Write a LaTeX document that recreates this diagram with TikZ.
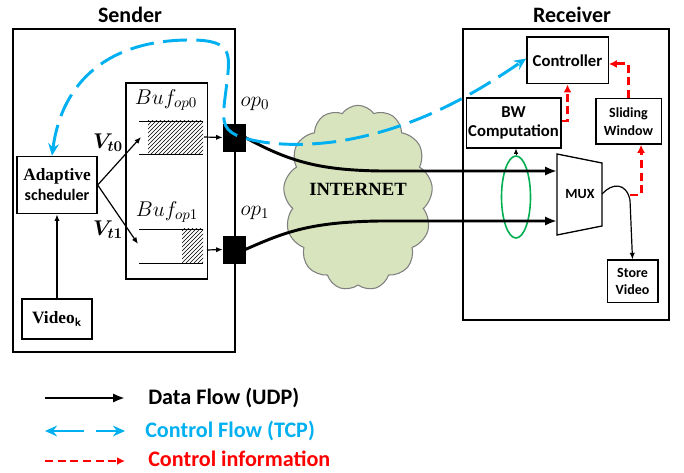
\RequirePackage{fix-cm}
\documentclass[tikz,border=0pt]{standalone}
\usepackage{amsmath}
\usepackage{bm}
\usepackage{fontspec}
\setmainfont{Carlito}
\newfontfamily\serifbf{Liberation Serif}
\usepackage{xcolor}
\usepackage{tikz}
\usetikzlibrary{arrows.meta,shapes.geometric,shapes.symbols,patterns}

\definecolor{tcpblue}{HTML}{00B0F0}
\definecolor{cloudgreen}{HTML}{D7E4BD}
\definecolor{ringgreen}{HTML}{00B050}

\begin{document}
\begin{tikzpicture}[x=0.75pt,y=-0.75pt,
	box/.style={draw,line width=1pt,fill=white,align=center,inner sep=1pt},
	frame/.style={draw,line width=1pt,inner sep=0pt},
	port/.style={draw,fill=black,minimum width=16.5pt,minimum height=20pt,inner sep=0pt},
	udp/.style={line width=2.2pt,-{Latex[length=9pt,width=7pt]}},
	thin arrow/.style={line width=0.9pt,-{Latex[length=5pt,width=4pt]}},
	tcp/.style={tcpblue,line width=2.2pt,dash pattern=on 18pt off 7pt,{Stealth[length=9pt,width=8pt]}-{Stealth[length=9pt,width=8pt]}},
	ctlinfo/.style={red,line width=2.2pt,dash pattern=on 6pt off 3.5pt,-{Latex[length=6pt,width=6pt]}},
	mathlbl/.style={inner sep=0pt,font=\fontsize{16}{18}\selectfont}]
	\useasboundingbox (0,0) rectangle (684,473);
	
	% sender side
	\node[font=\bfseries\fontsize{16.5}{18}\selectfont] (sendtitle) at (130,15) {Sender};
	\node[frame,minimum width=166.5pt,minimum height=242.25pt] (sender) at (124,190.5) {};
	\node[frame,minimum width=61pt,minimum height=147pt] (bufbox) at (166.5,181) {};
	\node[box,minimum width=60pt,minimum height=43pt,font=\bfseries\fontsize{12}{15}\selectfont] (sched) at (57,185)
		{{\serifbf\fontsize{13}{15}\selectfont Adaptive}\\scheduler};
	\node[box,minimum width=52.5pt,minimum height=30pt] (vid) at (57,319)
		{\serifbf\bfseries\fontsize{13}{15}\selectfont Video\textsubscript{\sffamily k}};
	\node[mathlbl] (bufzlbl) at (166,100) {$Buf_{op0}$};
	\node[mathlbl] (bufolbl) at (167,212) {$Buf_{op1}$};
	\node[mathlbl] (vzlbl) at (108,143) {$\bm{V_{t0}}$};
	\node[mathlbl] (volbl) at (108,230) {$\bm{V_{t1}}$};
	
	% the two buffers
	\fill[pattern=north east lines] (148,121) rectangle (203,154);
	\draw[line width=0.7pt] (139,121) -- (203,121) (139,154) -- (203,154);
	\fill[pattern=north east lines] (182,229) rectangle (203,263);
	\draw[line width=0.7pt] (139,229) -- (203,229) (139,263) -- (203,263);
	\coordinate (bufzin) at (141,137);
	\coordinate (bufoin) at (138,244);
	\coordinate (bufzout) at (204,137);
	\coordinate (bufoout) at (207,250);
	
	\node[port] (opzero) at (234,137.5) {};
	\node[port] (opone) at (234,249.5) {};
	\node[mathlbl] (opzlbl) at (255,104) {$op_0$};
	\node[mathlbl] (opolbl) at (255,213) {$op_1$};
	
	\draw[thin arrow] (vid) -- (sched);
	\draw[thin arrow] (sched.east) -- (bufzin);
	\draw[thin arrow] (sched.east) -- (bufoin);
	\draw[thin arrow] (bufzout) -- (opzero.west);
	\draw[thin arrow] (bufoout) -- (opone.west);
	
	% internet
	\node[cloud,cloud puffs=13,cloud puff arc=110,aspect=0.8,draw=gray,line width=0.8pt,fill=cloudgreen,
		minimum width=112pt,minimum height=139pt] (net) at (358,198) {};
	\node[font=\serifbf\bfseries\fontsize{14}{16}\selectfont] (nettext) at (358,189) {INTERNET};
	
	% receiver side
	\node[font=\bfseries\fontsize{16.5}{18}\selectfont] (rcvtitle) at (572,15) {Receiver};
	\node[frame,minimum width=154.5pt,minimum height=218.25pt] (receiver) at (566,174.5) {};
	\node[box,minimum width=61pt,minimum height=35pt,font=\bfseries\fontsize{12.5}{14}\selectfont] (ctrl) at (567.5,60.5) {Controller};
	\node[box,minimum width=71pt,minimum height=37.5pt,font=\bfseries\fontsize{12.5}{14.5}\selectfont] (bw) at (513.5,123) {BW\\Computation};
	\node[box,minimum width=49pt,minimum height=34pt,font=\bfseries\fontsize{10.5}{13}\selectfont] (slide) at (628.5,121.5) {Sliding\\Window};
	\node[box,minimum width=38pt,minimum height=32pt,font=\bfseries\fontsize{10.5}{13}\selectfont] (store) at (632.5,281.5) {Store\\Video};
	\draw[line width=1pt,fill=white] (557,154) -- (602,163) -- (602,226) -- (557,235) -- cycle;
	\node[font=\bfseries\fontsize{10.5}{12}\selectfont] (mux) at (580,194) {MUX};
	\coordinate (muxinz) at (557,171);
	\coordinate (muxino) at (557,221);
	\coordinate (muxout) at (602,194);
	\coordinate (tap) at (630,195);
	\node[ellipse,draw=ringgreen,line width=1.2pt,minimum width=21.75pt,minimum height=61.5pt,inner sep=0pt] (ring) at (516,197) {};
	\draw[line width=0.6pt,-{Latex[length=4pt,width=3.5pt]}] (ring.north) -- (ring.north |- bw.south);
	
	% data flow
	\draw[udp] (opzero.east) .. controls (290,162) and (320,170) .. (380,171) -- (muxinz);
	\draw[udp] (opone.east) .. controls (285,232) and (310,222) .. (380,221) -- (muxino);
	\draw[thin arrow] (muxout) .. controls (612,183) and (626,182) .. (630,200) -- (store.north);
	
	% control information
	\draw[ctlinfo] (tap) -| ([xshift=9.4pt]slide.south);
	\draw[ctlinfo] (slide.north) |- ([yshift=-2.6pt]ctrl.east);
	\draw[ctlinfo] ([yshift=1.5pt]bw.east) -| (ctrl.south);
	
	% control flow
	\draw[tcp] ([xshift=-3.75pt]sched.north) .. controls (62,80) and (110,40) .. (190,40)
		.. controls (235,40) and (230,55) .. (226,90)
		.. controls (222,120) and (222,128) .. (236,135)
		.. controls (260,145) and (300,147) .. (340,141)
		.. controls (420,128) and (480,90) .. ([yshift=1.5pt]ctrl.west);
	
	% legend
	\coordinate (ldata) at (45,398);
	\coordinate (ldataend) at (125,398);
	\coordinate (ltcp) at (45,431);
	\coordinate (ltcpend) at (125,431);
	\coordinate (linfo) at (45,461);
	\coordinate (linfoend) at (125,461);
	\draw[udp,line width=2pt] (ldata) -- (ldataend);
	\draw[tcp,line width=2pt,dash pattern=on 24pt off 9pt] (ltcp) -- (ltcpend);
	\draw[ctlinfo] (linfo) -- (linfoend);
	\node[anchor=west,inner sep=0pt,font=\bfseries\fontsize{16.6}{18}\selectfont] (ldatatxt) at (148,398) {Data Flow (UDP)};
	\node[anchor=west,inner sep=0pt,text=tcpblue,font=\bfseries\fontsize{16.6}{18}\selectfont] (ltcptxt) at (145,431) {Control Flow (TCP)};
	\node[anchor=west,inner sep=0pt,text=red,font=\bfseries\fontsize{16.6}{18}\selectfont] (linfotxt) at (148,459) {Control information};
\end{tikzpicture}
\end{document}
